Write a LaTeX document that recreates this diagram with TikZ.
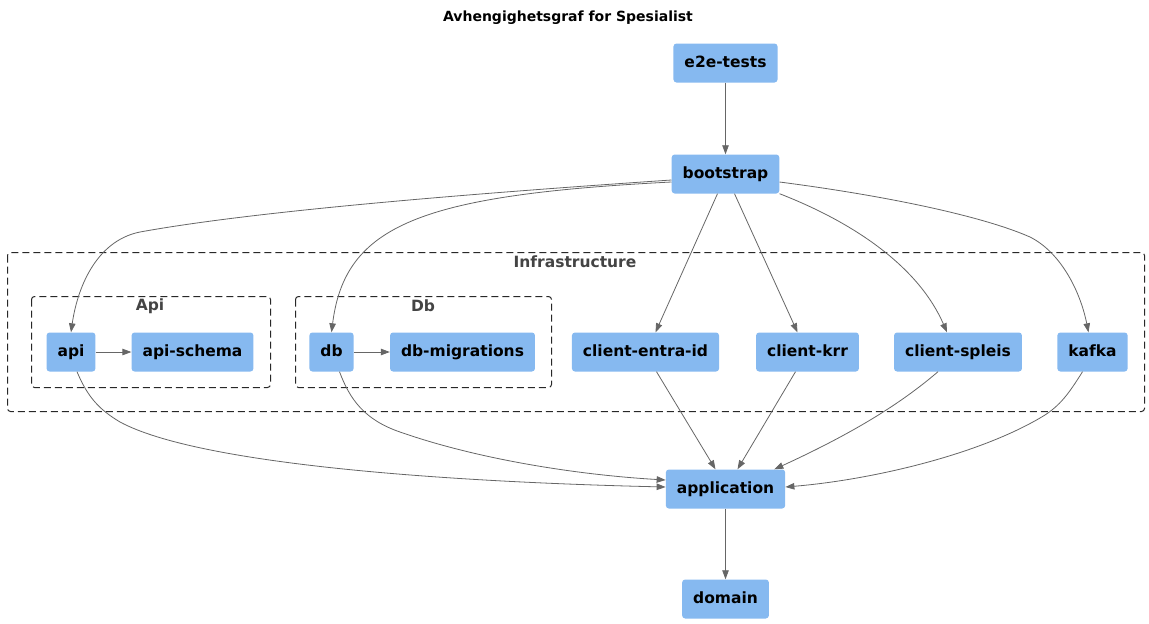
\documentclass[tikz,border=0pt]{standalone}
\usepackage{fontspec}
\setmainfont{DejaVu Sans}
\usetikzlibrary{arrows.meta}
\definecolor{boxblue}{RGB}{134,185,240}
\definecolor{edgegray}{RGB}{102,102,102}
\definecolor{grpgray}{RGB}{68,68,68}
\definecolor{dashgray}{RGB}{40,40,40}

\begin{document}
\begin{tikzpicture}[x = 1pt, y = -1pt,
		box/.style = {fill = boxblue, rounded corners = 3pt, inner xsep = 11pt, minimum height = 39pt,
			text height = 11.5pt, text depth = 3.5pt, font = \fontsize{15.5}{18}\selectfont\bfseries},
		grp/.style = {draw = dashgray, dash pattern = on 7pt off 4pt, rounded corners = 3pt, line width = 1pt},
		grplabel/.style = {text = grpgray, font = \fontsize{15.5}{18}\selectfont\bfseries},
		dep/.style = {draw = edgegray, line width = 0.8pt, -{Triangle[length = 9pt, width = 6.5pt]}}]
		\useasboundingbox (0,0) rectangle (1149,624);

		\node[font = \fontsize{14}{16}\selectfont\bfseries] (title) at (568,18) {Avhengighetsgraf for Spesialist};

		\draw[grp] (7.5,252.5) rectangle (1144.5,411.5);
		\draw[grp] (31.5,296.5) rectangle (270.5,387.5);
		\draw[grp] (295.5,296.5) rectangle (551.5,387.5);
		\node[grplabel] (infra) at (575,262) {Infrastructure};
		\node[grplabel] (apigrp) at (150,306) {Api};
		\node[grplabel] (dbgrp) at (423,306) {Db};

		\node[box] (e2e)    at (725.5,63)  {e2e-tests};
		\node[box] (boot)   at (725.5,174) {bootstrap};
		\node[box] (api)    at (71,352)    {api};
		\node[box] (schema) at (192.5,352) {api-schema};
		\node[box] (db)     at (331.5,352) {db};
		\node[box] (mig)    at (462.5,352) {db-migrations};
		\node[box] (entra)  at (645.5,352) {client-entra-id};
		\node[box] (krr)    at (807.5,352) {client-krr};
		\node[box] (spleis) at (958,352)   {client-spleis};
		\node[box] (kafka)  at (1092.5,352) {kafka};
		\node[box] (app)    at (725.5,489) {application};
		\node[box] (dom)    at (725.5,599) {domain};

		\path[dep]
			(e2e) -- (boot);
		\path[dep]
			([yshift = -6pt]boot.west) .. controls (450,195) and (250,212) .. (140,232)
				.. controls (95,241) and (77,290) .. (api.north);
		\path[dep]
			([yshift = -8pt]boot.west) .. controls (420,195) and (345,225) .. (db.north);
		\path[dep]
			([xshift = -8pt]boot.south) -- ([xshift = 10pt]entra.north);
		\path[dep]
			([xshift = 9pt]boot.south) -- ([xshift = -10pt]krr.north);
		\path[dep]
			(boot.south east) .. controls (860,225) and (920,270) .. ([xshift = -11pt]spleis.north);
		\path[dep]
			([yshift = -8pt]boot.east) .. controls (880,195) and (980,215) .. (1030,237)
				.. controls (1060,252) and (1080,290) .. ([xshift = -4pt]kafka.north);
		\path[dep]
			(api) -- (schema);
		\path[dep]
			(db) -- (mig);
		\path[dep]
			([xshift = 6pt]api.south) .. controls (88,398) and (100,410) .. (120,422)
				.. controls (200,465) and (450,482) .. ([yshift = 2pt]app.west);
		\path[dep]
			([xshift = 8pt]db.south) .. controls (350,400) and (365,420) .. (400,432)
				.. controls (480,460) and (580,475) .. ([yshift = 9pt]app.west);
		\path[dep]
			([xshift = 11pt]entra.south) -- ([xshift = -10pt]app.north);
		\path[dep]
			([xshift = -12pt]krr.south) -- ([xshift = 12pt]app.north);
		\path[dep]
			([xshift = -20pt]spleis.south) .. controls (905,400) and (860,430) .. ([xshift = -11pt]app.north east);
		\path[dep]
			([xshift = -10pt]kafka.south) .. controls (1068,395) and (1060,405) .. (1045,415)
				.. controls (980,455) and (870,480) .. ([yshift = 2pt]app.east);
		\path[dep]
			(app) -- (dom);
\end{tikzpicture}
\end{document}
